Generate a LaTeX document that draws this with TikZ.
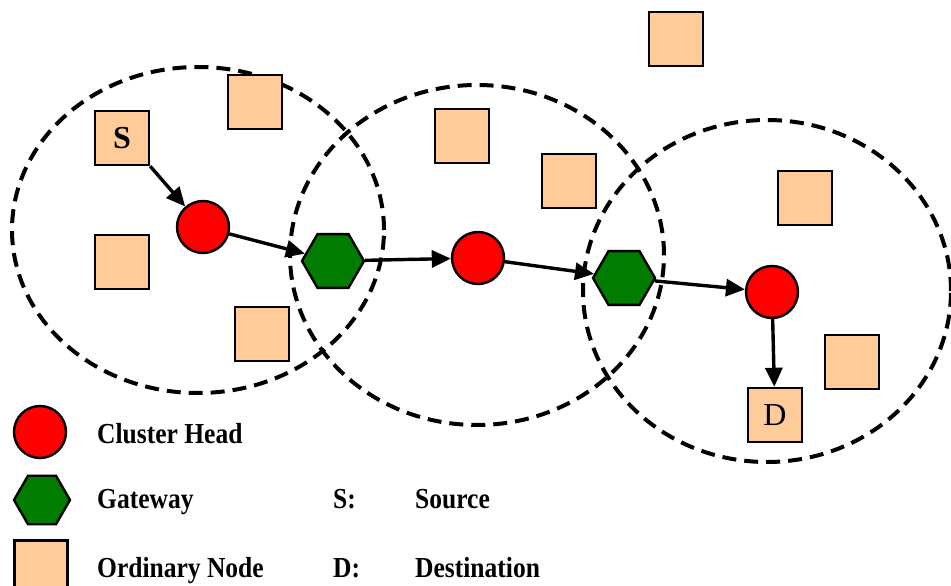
\documentclass[tikz,border=0pt]{standalone}
\usepackage{fontspec}
\setmainfont{Liberation Serif}
\newfontfamily\lblfont[FakeStretch=0.88]{Liberation Serif}
\usetikzlibrary{arrows.meta,shapes.geometric}
\definecolor{peach}{RGB}{255,204,153}
\definecolor{chred}{RGB}{255,0,0}
\definecolor{gwgreen}{RGB}{0,125,0}

\begin{document}
\begin{tikzpicture}[x=1pt,y=-1pt,
  ordinary/.style={draw=black,line width=2.4pt,fill=peach,minimum size=54pt,inner sep=0pt,
    font=\fontsize{32}{32}\selectfont},
  head/.style={circle,draw=black,line width=2.4pt,fill=chred,minimum size=52pt,inner sep=0pt},
  gateway/.style={regular polygon,regular polygon sides=6,draw=black,line width=2.4pt,
    fill=gwgreen,minimum size=62pt,inner sep=0pt},
  link/.style={line width=3.4pt,-{Triangle[length=19pt,width=17pt]}},
  clusterrange/.style={line width=4pt,dash pattern=on 14pt off 8pt},
  legendtext/.style={anchor=base west,inner sep=0pt,
    font=\lblfont\fontsize{29}{29}\selectfont\bfseries}
]
\useasboundingbox (0,0) rectangle (951,586);

% cluster ranges
\draw[clusterrange] (198,230) ellipse [x radius=186pt, y radius=163pt];
\draw[clusterrange] (477,255) ellipse [x radius=187pt, y radius=170pt];
\draw[clusterrange] (767,291) ellipse [x radius=184pt, y radius=171pt];

% ordinary nodes
\node[ordinary] (S)  at (122,138) {\textbf{S}};
\node[ordinary] (o1) at (255,102) {};
\node[ordinary] (o2) at (122,262) {};
\node[ordinary] (o3) at (262,334) {};
\node[ordinary] (o4) at (462,136) {};
\node[ordinary] (o5) at (569,181) {};
\node[ordinary] (o6) at (676,39)  {};
\node[ordinary] (o7) at (805,198) {};
\node[ordinary] (o8) at (852,362) {};
\node[ordinary] (D)  at (775,415) {D};

% cluster heads and gateways
\node[head] (ch1) at (203,227) {};
\node[head] (ch2) at (478,258) {};
\node[head] (ch3) at (772,292) {};
\node[gateway] (g1) at (333,261) {};
\node[gateway] (g2) at (624,278) {};

% route from source to destination
\draw[link] (S.south east) -- (ch1);
\draw[link] (ch1) -- (g1);
\draw[link] (g1) -- (ch2);
\draw[link] (ch2) -- (g2);
\draw[link] (g2) -- (ch3);
\draw[link] (ch3) -- (D);

% legend
\node[head] (lch) at (40,432) {};
\node[gateway,minimum size=56pt] (lgw) at (42,500) {};
\node[ordinary,minimum size=53pt] (lon) at (41,567) {};
\node[legendtext] (tch) at (97,443) {Cluster Head};
\node[legendtext] (tgw) at (97,508) {Gateway};
\node[legendtext] (ton) at (97,577) {Ordinary Node};
\node[legendtext] (ts)  at (333,508) {S:};
\node[legendtext] (tsrc) at (415,508) {Source};
\node[legendtext] (td)  at (333,577) {D:};
\node[legendtext] (tdst) at (415,577) {Destination};
\end{tikzpicture}
\end{document}
